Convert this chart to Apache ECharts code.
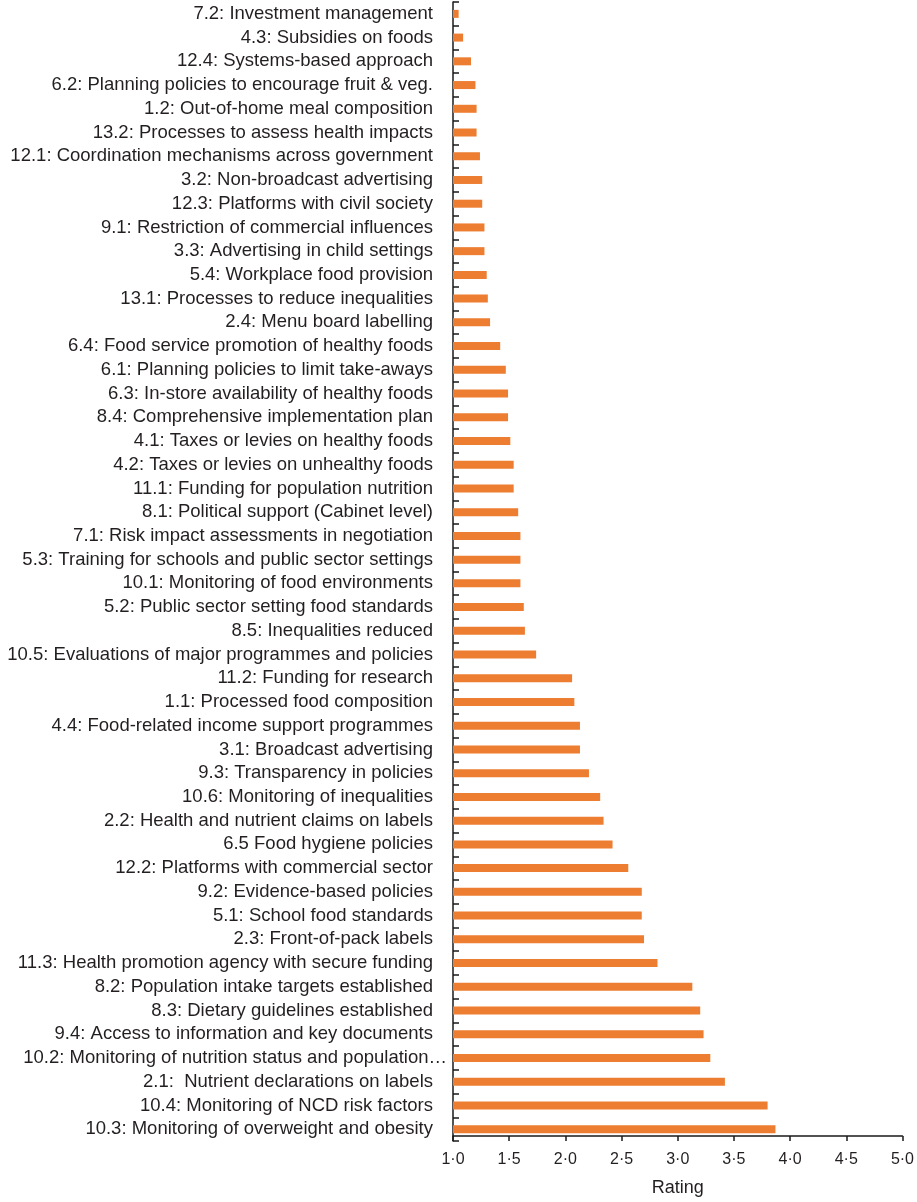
<!DOCTYPE html>
<html>
<head>
<meta charset="utf-8">
<script src="https://cdn.jsdelivr.net/npm/echarts@6/dist/echarts.min.js"></script>
<style>
html,body{margin:0;padding:0;background:#fff;}
#chart{width:917px;height:1202px;}
</style>
</head>
<body>
<div id="chart"></div>
<script>
// Categories listed from top to bottom
const categories = [
  "7.2: Investment management",
  "4.3: Subsidies on foods",
  "12.4: Systems-based approach",
  "6.2: Planning policies to encourage fruit & veg.",
  "1.2: Out-of-home meal composition",
  "13.2: Processes to assess health impacts",
  "12.1: Coordination mechanisms across government",
  "3.2: Non-broadcast advertising",
  "12.3: Platforms with civil society",
  "9.1: Restriction of commercial influences",
  "3.3: Advertising in child settings",
  "5.4: Workplace food provision",
  "13.1: Processes to reduce inequalities",
  "2.4: Menu board labelling",
  "6.4: Food service promotion of healthy foods",
  "6.1: Planning policies to limit take-aways",
  "6.3: In-store availability of healthy foods",
  "8.4: Comprehensive implementation plan",
  "4.1: Taxes or levies on healthy foods",
  "4.2: Taxes or levies on unhealthy foods",
  "11.1: Funding for population nutrition",
  "8.1: Political support (Cabinet level)",
  "7.1: Risk impact assessments in negotiation",
  "5.3: Training for schools and public sector settings",
  "10.1: Monitoring of food environments",
  "5.2: Public sector setting food standards",
  "8.5: Inequalities reduced",
  "10.5: Evaluations of major programmes and policies",
  "11.2: Funding for research",
  "1.1: Processed food composition",
  "4.4: Food-related income support programmes",
  "3.1: Broadcast advertising",
  "9.3: Transparency in policies",
  "10.6: Monitoring of inequalities",
  "2.2: Health and nutrient claims on labels",
  "6.5 Food hygiene policies",
  "12.2: Platforms with commercial sector",
  "9.2: Evidence-based policies",
  "5.1: School food standards",
  "2.3: Front-of-pack labels",
  "11.3: Health promotion agency with secure funding",
  "8.2: Population intake targets established",
  "8.3: Dietary guidelines established",
  "9.4: Access to information and key documents",
  "10.2: Monitoring of nutrition status and population\u2026",
  "2.1:  Nutrient declarations on labels",
  "10.4: Monitoring of NCD risk factors",
  "10.3: Monitoring of overweight and obesity"
];

const ratings = [
  1.05, 1.09, 1.16, 1.20, 1.21, 1.21, 1.24, 1.26, 1.26, 1.28,
  1.28, 1.30, 1.31, 1.33, 1.42, 1.47, 1.49, 1.49, 1.51, 1.54,
  1.54, 1.58, 1.60, 1.60, 1.60, 1.63, 1.64, 1.74, 2.06, 2.08,
  2.13, 2.13, 2.21, 2.31, 2.34, 2.42, 2.56, 2.68, 2.68, 2.70,
  2.82, 3.13, 3.20, 3.23, 3.29, 3.42, 3.80, 3.87
];

const xTickLabels = ["1\u00b70","1\u00b75","2\u00b70","2\u00b75","3\u00b70","3\u00b75","4\u00b70","4\u00b75","5\u00b70"];
const xMin = 1, xMax = 5, xStep = 0.5;
const axisTitle = "Rating";

const FONT = "'Liberation Sans', Arial, Helvetica, sans-serif";
const TXT = "#231f20";

const chart = echarts.init(document.getElementById('chart'), null, {renderer: 'canvas'});
chart.setOption({
  animation: false,
  backgroundColor: '#ffffff',
  grid: { left: 453, right: 14, top: 2, height: 1143, containLabel: false },
  xAxis: {
    type: 'value',
    min: xMin, max: xMax, interval: xStep,
    offset: -5,
    name: axisTitle,
    nameLocation: 'middle',
    nameGap: 43,
    nameTextStyle: { fontFamily: FONT, fontSize: 18, color: TXT },
    splitLine: { show: false },
    axisLine: { show: true, lineStyle: { color: '#1a1a1a', width: 1.5 } },
    axisTick: { show: true, inside: false, length: 5, lineStyle: { color: '#1a1a1a', width: 1.5 } },
    axisLabel: {
      margin: 16,
      fontFamily: FONT, fontSize: 16, color: TXT,
      formatter: function (v) {
        const i = Math.round((v - xMin) / xStep);
        return xTickLabels[i] !== undefined ? xTickLabels[i] : '';
      }
    }
  },
  yAxis: {
    type: 'category',
    data: categories,
    inverse: true,
    boundaryGap: true,
    axisLine: { show: true, lineStyle: { color: '#1a1a1a', width: 1.5 } },
    axisTick: { show: true, inside: true, length: 6, lineStyle: { color: '#1a1a1a', width: 1.5 } },
    axisLabel: {
      interval: 0,
      margin: 6,
      fontFamily: FONT, fontSize: 18.5, color: TXT,
      formatter: function (v) {
        if (v.indexOf('\u2026') >= 0) return '{b|' + v + '}';
        return '{a|' + v + '}';
      },
      rich: {
        a: { fontFamily: FONT, fontSize: 18.5, color: TXT, padding: [0, 14, 0, 0] },
        b: { fontFamily: FONT, fontSize: 18.5, color: TXT, padding: [0, 0, 0, 0] }
      }
    }
  },
  series: [{
    type: 'bar',
    data: ratings,
    barWidth: 8,
    itemStyle: { color: '#ED7D31' },
    clip: true
  }]
});
</script>
</body>
</html>
